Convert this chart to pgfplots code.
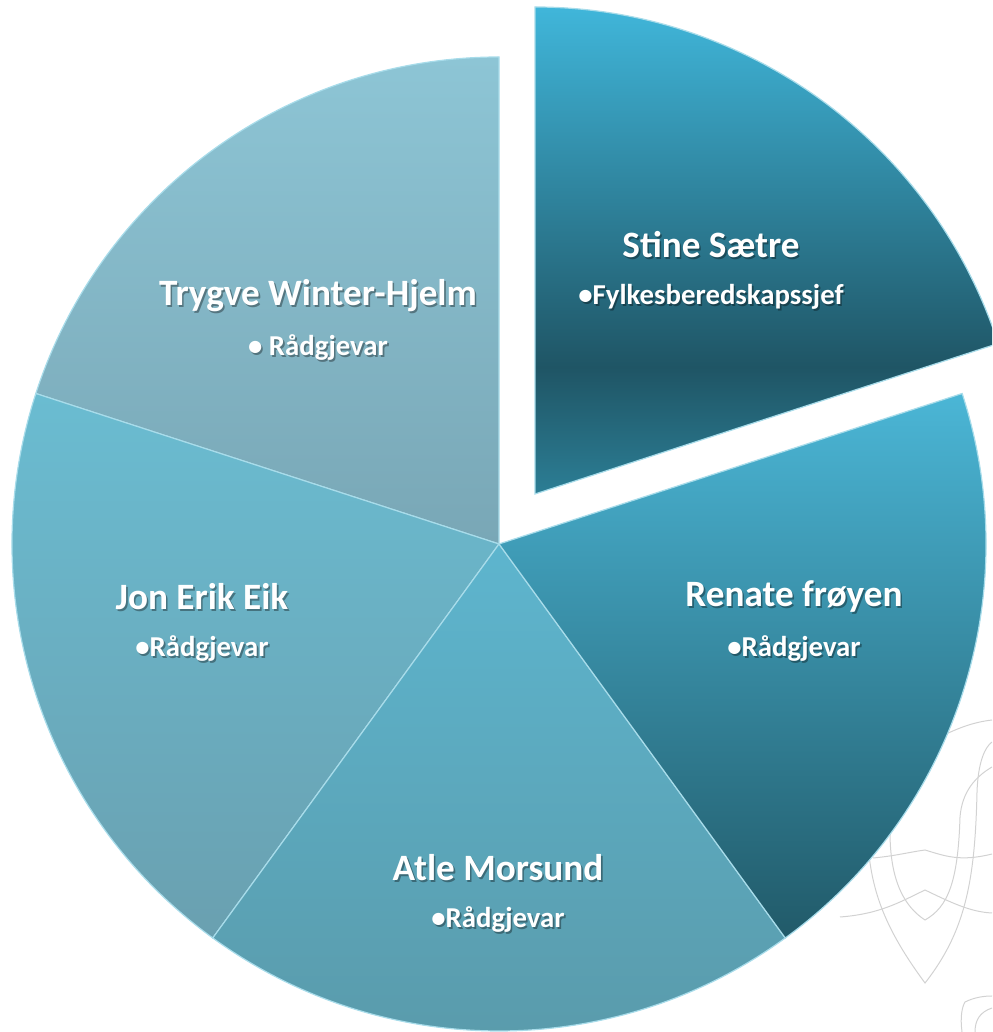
\documentclass[border=0pt]{standalone}
\usepackage{pgfplots}
\pgfplotsset{compat=1.18}
\usepackage{fontspec}
\setmainfont{Carlito}
\definecolor{tryT}{HTML}{8DC5D5}\definecolor{tryB}{HTML}{79A7B6}
\definecolor{jonT}{HTML}{6ABCD1}\definecolor{jonB}{HTML}{6AA0B0}
\definecolor{atlT}{HTML}{5DB5CE}\definecolor{atlB}{HTML}{5A9AAA}
\definecolor{renT}{HTML}{4BB6D6}\definecolor{renB}{HTML}{215A69}
\definecolor{stiT}{HTML}{40B6DA}\definecolor{stiM}{HTML}{1F5565}\definecolor{stiB}{HTML}{2C7E95}
\definecolor{edge}{HTML}{A8DCEA}
\definecolor{deco}{HTML}{D2D2D2}
\pgfdeclareverticalshading{stine}{100bp}{color(0bp)=(stiB); color(25bp)=(stiB); color(38bp)=(stiM); color(75bp)=(stiT); color(100bp)=(stiT)}
\pgfdeclareverticalshading{renate}{100bp}{color(0bp)=(renB); color(25bp)=(renB); color(75bp)=(renT); color(100bp)=(renT)}
\pgfdeclareverticalshading{atle}{100bp}{color(0bp)=(atlB); color(25bp)=(atlB); color(75bp)=(atlT); color(100bp)=(atlT)}
\pgfdeclareverticalshading{jon}{100bp}{color(0bp)=(jonB); color(25bp)=(jonB); color(75bp)=(jonT); color(100bp)=(jonT)}
\pgfdeclareverticalshading{trygve}{100bp}{color(0bp)=(tryB); color(25bp)=(tryB); color(75bp)=(tryT); color(100bp)=(tryT)}
% slice: #1 cumulative percent before, #2 percent, #3 centre x, #4 centre y, #5 shading
\newcommand\slice[5]{%
  \path[shading=#5, draw=edge, line width=0.6pt]
    (axis cs:#3,#4) -- ++({18+3.6*#1}:243.5pt)
    arc[start angle={18+3.6*#1}, end angle={18+3.6*(#1+#2)}, radius=243.5pt] -- cycle;}
\newcommand\lbl[4]{%
  \node[text=black, opacity=0.35, font=\bfseries\fontsize{18.6}{21}\selectfont] at ([xshift=0.8pt,yshift=-0.8pt]axis cs:#1,#2) {#3};
  \node[text=white, font=\bfseries\fontsize{18.6}{21}\selectfont] at (axis cs:#1,#2) {#3};
  \node[text=black, opacity=0.35, font=\bfseries\fontsize{14.4}{16}\selectfont] at ([xshift=0.8pt,yshift=-0.8pt]axis cs:#1,#2-52) {#4};
  \node[text=white, font=\bfseries\fontsize{14.4}{16}\selectfont] at (axis cs:#1,#2-52) {#4};}
\begin{document}
\begin{tikzpicture}
\begin{axis}[name=ax, x=0.5pt, y=0.5pt, xmin=0, xmax=992, ymin=0, ymax=1032,
  hide axis, clip=true, scale only axis]
% faint background ornament (bottom right)
\draw[deco, line width=0.5pt] (axis cs:840,115) .. controls (axis cs:880,118) and (axis cs:900,130) .. (axis cs:925,142) .. controls (axis cs:950,130) and (axis cs:970,120) .. (axis cs:992,119);
\draw[deco, line width=0.5pt] (axis cs:873,174) .. controls (axis cs:895,176) and (axis cs:910,180) .. (axis cs:925,182) .. controls (axis cs:945,176) and (axis cs:960,170) .. (axis cs:992,178);
\draw[deco, line width=0.5pt] (axis cs:867,210) .. controls (axis cs:868,150) and (axis cs:880,110) .. (axis cs:925,49) .. controls (axis cs:965,100) and (axis cs:975,150) .. (axis cs:977,240) .. controls (axis cs:978,270) and (axis cs:985,285) .. (axis cs:992,290);
\draw[deco, line width=0.5pt] (axis cs:890,200) .. controls (axis cs:890,150) and (axis cs:905,125) .. (axis cs:925,112) .. controls (axis cs:948,125) and (axis cs:958,150) .. (axis cs:960,215) .. controls (axis cs:962,240) and (axis cs:975,255) .. (axis cs:992,265);
\draw[deco, line width=0.5pt] (axis cs:940,295) .. controls (axis cs:960,305) and (axis cs:975,310) .. (axis cs:992,312);
\draw[deco, line width=0.5pt] (axis cs:962,0) .. controls (axis cs:960,15) and (axis cs:962,25) .. (axis cs:965,30) .. controls (axis cs:975,35) and (axis cs:985,36) .. (axis cs:992,36);
\draw[deco, line width=0.5pt] (axis cs:975,0) .. controls (axis cs:975,12) and (axis cs:980,20) .. (axis cs:992,24);
% values: Stine 20, Trygve 20, Jon Erik 20, Atle 20, Renate 20 (percent)
\slice{0}{20}{535}{538}{stine}
\slice{20}{20}{499}{488}{trygve}
\slice{40}{20}{499}{488}{jon}
\slice{60}{20}{499}{488}{atle}
\slice{80}{20}{499}{488}{renate}
\lbl{711}{787}{Stine Sætre}{•Fylkesberedskapssjef}
\lbl{318}{736}{Trygve Winter-Hjelm}{• Rådgjevar}
\lbl{202}{435}{Jon Erik Eik}{•Rådgjevar}
\lbl{794}{435}{Renate frøyen}{•Rådgjevar}
\lbl{498}{164}{Atle Morsund}{•Rådgjevar}
\end{axis}
\pgfresetboundingbox
\path (ax.south west) rectangle (ax.north east);
\end{tikzpicture}
\end{document}
